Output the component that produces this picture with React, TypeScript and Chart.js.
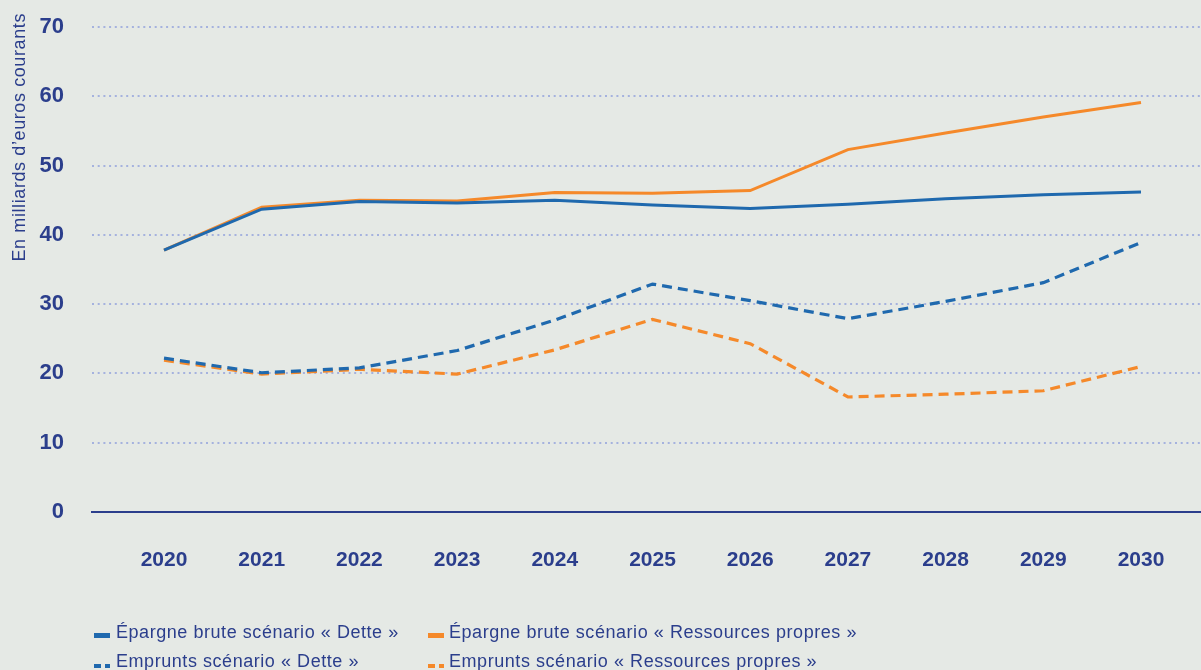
import React, { useEffect, useRef } from "react";
import { Chart, registerables } from "chart.js";

Chart.register(...registerables);

const years = [2020, 2021, 2022, 2023, 2024, 2025, 2026, 2027, 2028, 2029, 2030];
const epargneDette = [37.8, 43.7, 44.8, 44.6, 45.0, 44.3, 43.8, 44.4, 45.2, 45.8, 46.2];
const epargneRP = [37.8, 44.0, 45.0, 44.9, 46.1, 46.0, 46.4, 52.3, 54.7, 57.0, 59.1];
const empruntsDette = [22.2, 20.1, 20.8, 23.3, 27.7, 32.9, 30.5, 27.9, 30.4, 33.1, 38.9];
const empruntsRP = [21.9, 19.9, 20.6, 19.9, 23.4, 27.8, 24.3, 16.6, 17.0, 17.5, 21.0];
const yTicks = [0, 10, 20, 30, 40, 50, 60, 70];
const seriesLabels = [
  "Épargne brute scénario « Dette »",
  "Épargne brute scénario « Ressources propres »",
  "Emprunts scénario « Dette »",
  "Emprunts scénario « Ressources propres »",
];
const yTitle = "En milliards d’euros courants";

const BLUE = "#1f69ae";
const ORANGE = "#f5892a";
const NAVY = "#2b3e8c";
const BG = "#e5e9e5";
const GRID = "#a5b2de";
const FONT = "'Liberation Sans', Arial, Helvetica, sans-serif";

const toPts = (arr: number[]) => arr.map((v, i) => ({ x: years[i], y: v }));

const titlePlugin = {
  id: "yTitle",
  afterDraw(chart: any) {
    const ctx = chart.ctx;
    ctx.save();
    ctx.translate(25, 13);
    ctx.rotate(-Math.PI / 2);
    ctx.font = `18px ${FONT}`;
    try {
      (ctx as any).letterSpacing = "0.6px";
    } catch (e) {}
    ctx.fillStyle = NAVY;
    ctx.textAlign = "right";
    ctx.textBaseline = "alphabetic";
    ctx.fillText(yTitle, 0, 0);
    ctx.restore();
  },
};

export default function App() {
  const ref = useRef<HTMLCanvasElement>(null);
  useEffect(() => {
    if (!ref.current) return;
    const pxPerYear = (1141 - 164) / 10;
    const xMin = 2020 - (164 - 92) / pxPerYear;
    const xMax = xMin + (1201 - 92) / pxPerYear;
    const chart = new Chart(ref.current, {
      type: "line",
      data: {
        datasets: [
          { label: seriesLabels[0], data: toPts(epargneDette), borderColor: BLUE, borderWidth: 3, pointRadius: 0, tension: 0 },
          { label: seriesLabels[2], data: toPts(empruntsDette), borderColor: BLUE, borderWidth: 3.2, borderDash: [10, 6], pointRadius: 0, tension: 0 },
          { label: seriesLabels[1], data: toPts(epargneRP), borderColor: ORANGE, borderWidth: 3, pointRadius: 0, tension: 0 },
          { label: seriesLabels[3], data: toPts(empruntsRP), borderColor: ORANGE, borderWidth: 3.2, borderDash: [10, 6], pointRadius: 0, tension: 0 },
        ],
      },
      options: {
        animation: false,
        responsive: false,
        layout: { padding: { top: 27, left: 0, right: 0, bottom: 0 } },
        plugins: { legend: { display: false }, tooltip: { enabled: false } },
        scales: {
          x: {
            type: "linear",
            min: xMin,
            max: xMax,
            afterBuildTicks: (s: any) => {
              s.ticks = years.map((v) => ({ value: v }));
            },
            afterFit: (s: any) => {
              s.height = 670 - 512;
              s.paddingLeft = 0;
              s.paddingRight = 0;
            },
            grid: { display: false, drawTicks: false },
            border: { display: true, color: NAVY, width: 2 },
            ticks: {
              padding: 36,
              color: NAVY,
              font: { family: FONT, size: 21, weight: "bold" },
              callback: (v: any) => String(v),
              maxRotation: 0,
              autoSkip: false,
            },
          },
          y: {
            min: 0,
            max: 70,
            afterBuildTicks: (s: any) => {
              s.ticks = yTicks.map((v) => ({ value: v }));
            },
            afterFit: (s: any) => {
              s.width = 92;
              s.paddingTop = 0;
              s.paddingBottom = 0;
            },
            grid: {
              drawTicks: false,
              lineWidth: 2,
              color: (c: any) => (c.tick && c.tick.value === 0 ? "rgba(0,0,0,0)" : GRID),
            },
            border: { display: false, dash: [2, 3.7] },
            ticks: {
              padding: 28,
              color: NAVY,
              font: { family: FONT, size: 22, weight: "bold" },
            },
          },
        },
      },
      plugins: [titlePlugin],
    } as any);
    return () => chart.destroy();
  }, []);

  const legendText: React.CSSProperties = {
    position: "absolute",
    fontFamily: FONT,
    fontSize: 18,
    letterSpacing: "0.55px",
    color: NAVY,
    whiteSpace: "nowrap",
    lineHeight: "20px",
  };
  const solid = (color: string, left: number, top: number) => (
    <div style={{ position: "absolute", left, top, width: 16, height: 5, background: color }} />
  );
  const dashed = (color: string, left: number, top: number) => (
    <>
      <div style={{ position: "absolute", left, top, width: 7, height: 4, background: color }} />
      <div style={{ position: "absolute", left: left + 11, top, width: 5, height: 4, background: color }} />
    </>
  );

  return (
    <div style={{ position: "fixed", left: 0, top: 0, width: 1201, height: 670, background: BG, overflow: "hidden" }}>
      <canvas ref={ref} width={1201} height={670} style={{ position: "absolute", left: 0, top: 0 }} />
      {solid(BLUE, 94, 633)}
      <div style={{ ...legendText, left: 116, top: 622 }}>{seriesLabels[0]}</div>
      {solid(ORANGE, 428, 633)}
      <div style={{ ...legendText, left: 449, top: 622 }}>{seriesLabels[1]}</div>
      {dashed(BLUE, 94, 664)}
      <div style={{ ...legendText, left: 116, top: 651 }}>{seriesLabels[2]}</div>
      {dashed(ORANGE, 428, 664)}
      <div style={{ ...legendText, left: 449, top: 651 }}>{seriesLabels[3]}</div>
    </div>
  );
}
